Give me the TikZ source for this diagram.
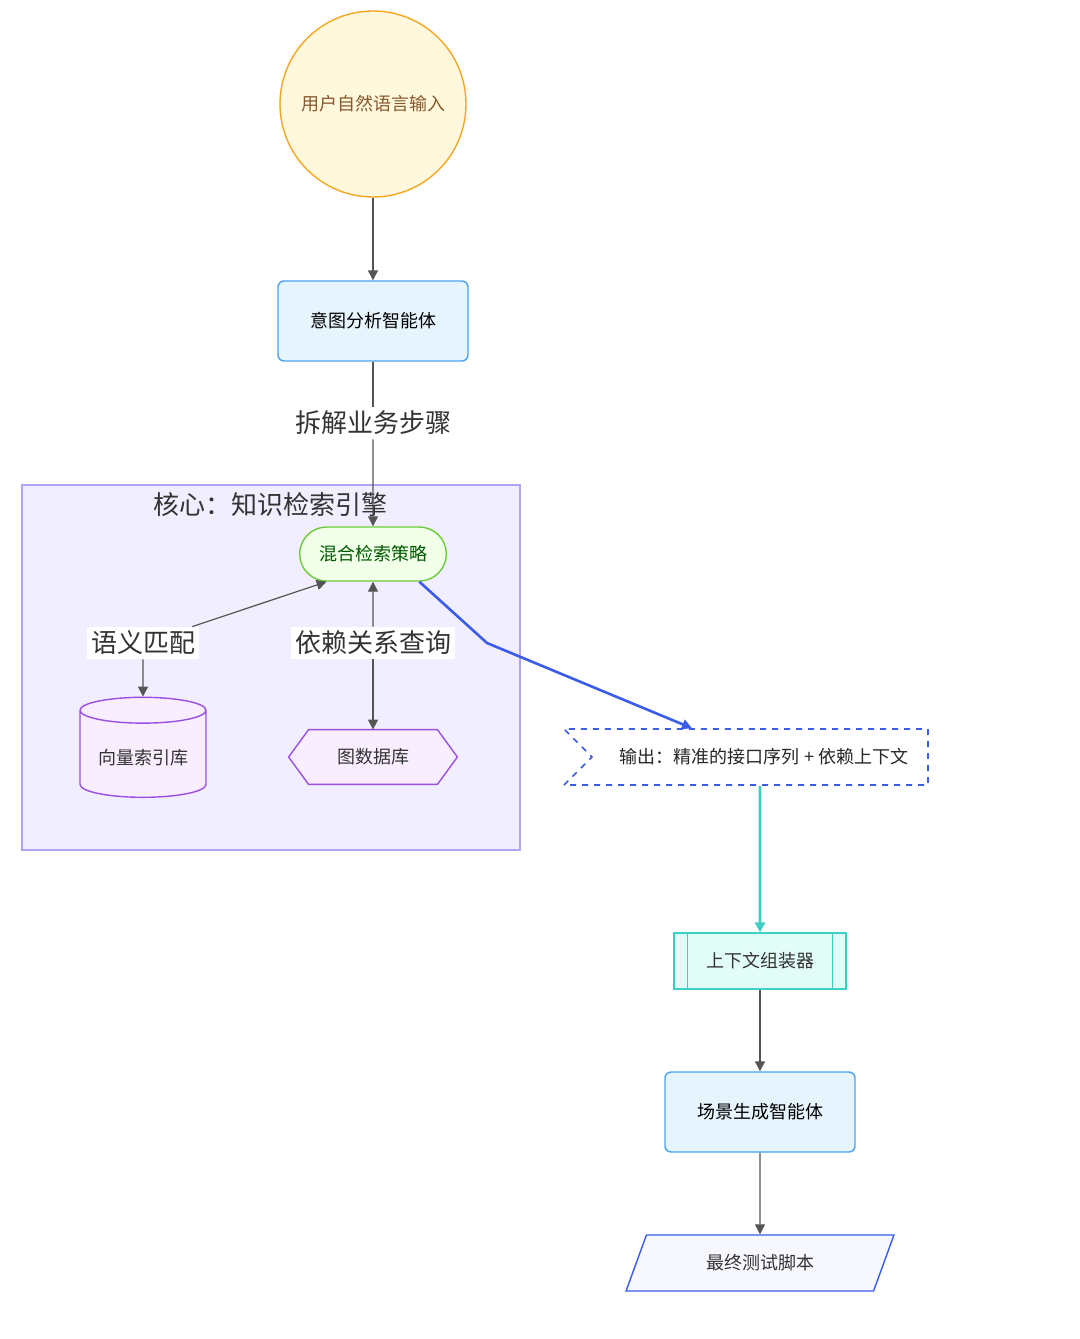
\documentclass[tikz,border=0pt]{standalone}
\usepackage{fontspec}
\setmainfont{Noto Sans CJK SC}
\usetikzlibrary{positioning, shapes.geometric, shapes.symbols, shapes.misc, arrows.meta}
\definecolor{sunfill}{HTML}{FFF8DC}
\definecolor{sunline}{HTML}{F5A623}
\definecolor{agentfill}{HTML}{E6F4FE}
\definecolor{agentline}{HTML}{4AA3F0}
\definecolor{corefill}{HTML}{F1EFFF}
\definecolor{coreline}{HTML}{ADA6F2}
\definecolor{mixfill}{HTML}{F2FFE9}
\definecolor{mixline}{HTML}{6CCB3A}
\definecolor{dbfill}{HTML}{F8EEFF}
\definecolor{dbline}{HTML}{9B4FE0}
\definecolor{outline}{HTML}{3A5CE8}
\definecolor{ctxfill}{HTML}{E2FDF7}
\definecolor{ctxline}{HTML}{3CCFC4}
\definecolor{edge}{HTML}{555555}

\begin{document}
\begin{tikzpicture}[x=0.5pt, y=-0.5pt, font=\fontsize{9}{11}\selectfont, >={Triangle[length=5pt,width=5pt]},
  agent/.style={draw=agentline, fill=agentfill, rounded corners=3pt, line width=0.7pt, minimum width=95pt, minimum height=40pt},
  lbl/.style={fill=white, inner sep=2pt, font=\fontsize{13}{15}\selectfont, text=black!80},
  link/.style={draw=edge, ->, line width=0.6pt}]
\useasboundingbox (0,0) rectangle (1080,1339);

% core cluster
\draw[fill=corefill, draw=coreline, line width=0.6pt] (22,485) rectangle (520,850);
\node[font=\fontsize{13}{15}\selectfont, text=black!80] (coretitle) at (270,505) {核心：知识检索引擎};

\node[circle, draw=sunline, fill=sunfill, line width=0.7pt, minimum size=93pt, text=brown!70!black] (input) at (373,104) {用户自然语言输入};
\node[agent] (intent) at (373,321) {意图分析智能体};
\node[lbl, fill=none] (split) at (373,423) {拆解业务步骤};
\node[rounded rectangle, draw=mixline, fill=mixfill, line width=0.7pt, minimum width=80pt, minimum height=27pt, text=green!35!black] (mix) at (373,554) {混合检索策略};
\node[lbl] (sem) at (143,643) {语义匹配};
\node[lbl] (dep) at (373,643) {依赖关系查询};
\node[cylinder, shape border rotate=90, aspect=0.25, draw=dbline, fill=dbfill, line width=0.7pt, minimum width=63pt, minimum height=50pt, text=black!80] (vec) at (143,757) {\raisebox{-8pt}{向量索引库}};
\node[minimum width=84pt, minimum height=27pt, text=black!80] (graph) at (373,757) {图数据库};
\draw[draw=dbline, fill=dbfill, line width=0.7pt] ([xshift=10pt]graph.north west) -- ([xshift=-10pt]graph.north east) -- (graph.east) -- ([xshift=-10pt]graph.south east) -- ([xshift=10pt]graph.south west) -- (graph.west) -- cycle;
\node[text=black!80] at (graph) {图数据库};

\node[signal, signal from=west, signal to=nowhere, draw=outline, dashed, fill=white, line width=0.8pt, minimum width=182pt, minimum height=28pt, text=black!85] (output) at (760,757) {\hspace{4pt}输出：精准的接口序列 + 依赖上下文};
\node[draw=ctxline, fill=ctxfill, line width=0.7pt, minimum width=86pt, minimum height=28pt, text=black!80] (ctx) at (760,961) {上下文组装器};
\draw[ctxline, line width=0.7pt] ([xshift=7pt]ctx.north west) -- ([xshift=7pt]ctx.south west) ([xshift=-7pt]ctx.north east) -- ([xshift=-7pt]ctx.south east);
\node[agent] (scene) at (760,1112) {场景生成智能体};
\node[trapezium, trapezium left angle=70, trapezium right angle=110, draw=outline, fill=agentfill!70!blue!8, line width=0.7pt, minimum width=75pt, minimum height=28pt, text=black!80] (script) at (760,1263) {最终测试脚本};

% connectors
\draw[link] (input) -- (intent);
\draw[edge, line width=0.6pt] (intent) -- (split);
\draw[link] (split) -- (mix);
\draw[link] (sem) -- (mix.south west);
\draw[link] (sem) -- (vec.north);
\draw[link] (dep) -- (mix);
\draw[link] (dep) -- (graph.north);
\draw[outline, line width=1.3pt, ->] (mix.south east) -- (487,643) -- (output.north west -| 692,0);
\draw[ctxline, line width=1.3pt, ->] (output) -- (ctx);
\draw[link] (ctx) -- (scene);
\draw[link] (scene) -- (script);
\end{tikzpicture}
\end{document}
